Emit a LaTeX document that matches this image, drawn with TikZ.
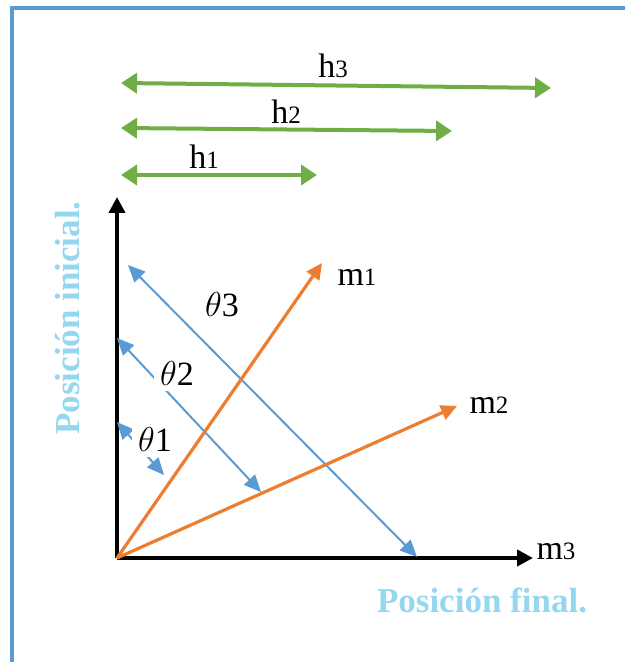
\documentclass[tikz,border=0pt]{standalone}
\usepackage{fontspec}
\setmainfont{Liberation Serif}
\usepackage{tikz}
\usepackage{xcolor}
\usetikzlibrary{positioning, arrows.meta, calc}
\definecolor{cFrame}  {HTML}{5B9BD5}
\definecolor{cDist}   {HTML}{70AD47}
\definecolor{cAngle}  {HTML}{5B9BD5}
\definecolor{cMove}   {HTML}{ED7D31}
\definecolor{cAxisTxt}{HTML}{95D7F0}
\newcommand{\smalldig}[1]{{\fontsize{12.5}{13}\selectfont #1}}

\begin{document}
\begin{tikzpicture}[x=0.5pt, y=-0.5pt,
    distArrow/.style={cDist, line width=2pt,
      {Triangle[length=8pt,width=10pt]}-{Triangle[length=8pt,width=10pt]}},
    angArrow/.style={cAngle, line width=1pt,
      {Triangle[length=8.5pt,width=7.5pt]}-{Triangle[length=8.5pt,width=7.5pt]}},
    moveArrow/.style={cMove, line width=1.6pt, -{Triangle[length=8pt,width=7.5pt]}},
    axisArrow/.style={black, line width=2pt, -{Triangle[length=8pt,width=8pt]}},
    lbl/.style={font=\fontsize{17}{17}\selectfont, inner sep=1pt},
    axisLbl/.style={font=\fontsize{17.5}{18}\selectfont\bfseries, text=cAxisTxt, inner sep=0pt},
  ]
  \useasboundingbox (0,0) rectangle (625,662);
  \draw[cFrame, line width=2pt] (11.5,662) -- (11.5,8.5) -- (625,8.5);

  % distances
  \coordinate (h3L) at (121,83);  \coordinate (h3R) at (551,88);
  \coordinate (h2L) at (121,128); \coordinate (h2R) at (452,131);
  \coordinate (h1L) at (121,175); \coordinate (h1R) at (317,175);
  \draw[distArrow] (h3L) -- (h3R);
  \draw[distArrow] (h2L) -- (h2R);
  \draw[distArrow] (h1L) -- (h1R);
  \node[lbl] (h3) at (333,66)  {h\smalldig{3}};
  \node[lbl] (h2) at (286,112) {h\smalldig{2}};
  \node[lbl] (h1) at (204,157) {h\smalldig{1}};

  % axes
  \coordinate (O) at (117,558);
  \coordinate (yTip) at (117,197);
  \coordinate (xTip) at (533,558);
  \draw[axisArrow] (O) -- (yTip);
  \draw[axisArrow] (O) -- (xTip);
  \node[lbl] (m3) at (556,551) {m\smalldig{3}};
  \node[axisLbl] (posFin) at (482,600) {Posición final.};
  \node[axisLbl, rotate=90] (posIni) at (68,318) {Posición inicial.};

  % angles
  \coordinate (t3A) at (128,265); \coordinate (t3B) at (417,557);
  \coordinate (t2A) at (117,338); \coordinate (t2B) at (261,492);
  \coordinate (t1A) at (117,422); \coordinate (t1B) at (164,475);
  \draw[angArrow] (t3A) -- (t3B);
  \draw[angArrow] (t2A) -- (t2B);
  \draw[angArrow] (t1A) -- (t1B);
  \node[lbl, fill=white, inner sep=3pt] (th2) at (177,373) {$\theta$2};
  \node[lbl, fill=white, inner sep=3pt] (th1) at (155,439) {$\theta$1};
  \node[lbl] (th3) at (222,305) {$\theta$3};

  % moves
  \coordinate (m1Tip) at (322,263);
  \coordinate (m2Tip) at (457,406);
  \draw[moveArrow] (O) -- (m1Tip);
  \draw[moveArrow] (O) -- (m2Tip);
  \node[lbl] (m1) at (357,277) {m\smalldig{1}};
  \node[lbl] (m2) at (489,405) {m\smalldig{2}};
\end{tikzpicture}
\end{document}
